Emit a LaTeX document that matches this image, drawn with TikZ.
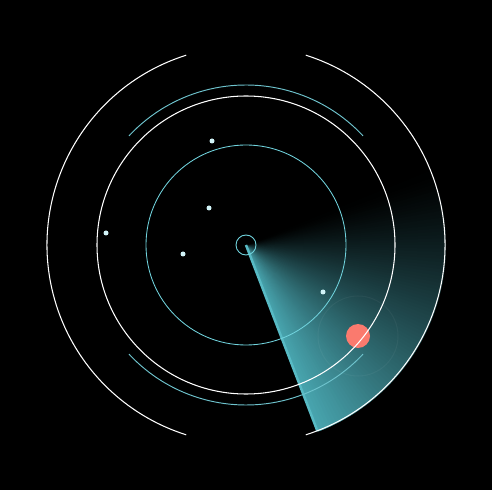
\documentclass[tikz,border=0pt]{standalone}
\usepackage{tikz}
\definecolor{sweepc}{RGB}{72,164,174}
\definecolor{edgec}{RGB}{88,186,196}
\definecolor{ringc}{RGB}{112,210,220}
\definecolor{arcc}{RGB}{110,195,205}
\definecolor{blipc}{RGB}{210,244,248}
\definecolor{redc}{RGB}{250,122,110}
\tikzset{
  whitering/.style={draw=white,line width=1.05pt},
  cyanring/.style={draw=ringc,line width=0.85pt},
  cyanarc/.style={draw=arcc,line width=0.95pt},
  blip/.style={circle,fill=blipc,inner sep=0pt,minimum size=5pt},
}
\begin{document}
\begin{tikzpicture}[x=1pt,y=1pt]
\fill[black] (0,0) rectangle (492,490);
\useasboundingbox (0,0) rectangle (492,490);
\coordinate (c) at (246,245);
% sweep (conic fade)
\foreach \i in {0,...,89}{
  \pgfmathsetmacro{\p}{100*(1-\i/90)^1.2}
  \pgfmathsetmacro{\a}{-69+\i}
  \pgfmathsetmacro{\b}{-69+\i+2}
  \fill[sweepc!\p!black] (c) -- ++(\a:200) arc[start angle=\a,end angle=\b,radius=200] -- cycle;
}
\draw[edgec,line width=2.5pt] (c) -- ++(-69:199);
% faint ring around target
\node[circle,draw=white,draw opacity=0.045,line width=1pt,minimum size=80pt,inner sep=0pt] (tring) at (358,154) {};
\node[circle,fill=redc,inner sep=0pt,minimum size=24pt] (target) at (358,154) {};
% rings
\draw[whitering] (c) ++(-72.5:199) arc[start angle=-72.5,end angle=72.5,radius=199];
\draw[whitering] (c) ++(107.5:199) arc[start angle=107.5,end angle=252.5,radius=199];
\draw[whitering] (c) circle[radius=149];
\draw[cyanarc] (c) ++(43:160) arc[start angle=43,end angle=137,radius=160];
\draw[cyanarc] (c) ++(223:160) arc[start angle=223,end angle=317,radius=160];
\draw[cyanring] (c) circle[radius=100];
\node[circle,draw=ringc,line width=0.9pt,minimum size=20pt,inner sep=0pt] (hub) at (c) {};
% blips
\node[blip] (b1) at (212,349) {};
\node[blip] (b2) at (209,282) {};
\node[blip] (b3) at (106,257) {};
\node[blip] (b4) at (183,236) {};
\node[blip] (b5) at (323,198) {};
\end{tikzpicture}
\end{document}
